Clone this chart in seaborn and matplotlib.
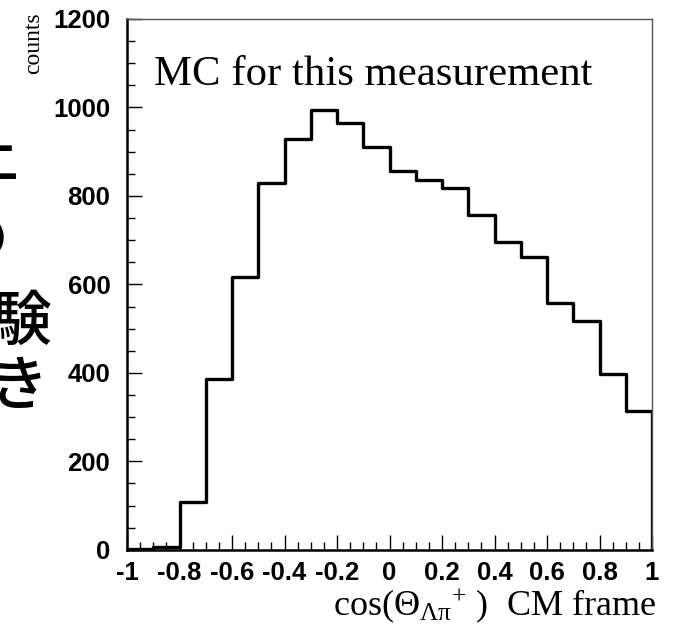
import numpy as np
import pandas as pd
import matplotlib
matplotlib.use("Agg")
import matplotlib.pyplot as plt
import seaborn as sns
from matplotlib.ticker import MultipleLocator, FixedLocator

# ---- data ----
bin_edges = [-1.0, -0.9, -0.8, -0.7, -0.6, -0.5, -0.4, -0.3, -0.2, -0.1, 0.0,
             0.1, 0.2, 0.3, 0.4, 0.5, 0.6, 0.7, 0.8, 0.9, 1.0]
counts = [1, 7, 107, 387, 616, 830, 928, 994, 964, 910, 856,
          837, 817, 758, 695, 663, 559, 518, 398, 313]
xtick_values = [-1, -0.8, -0.6, -0.4, -0.2, 0, 0.2, 0.4, 0.6, 0.8, 1]
xtick_labels = ["-1", "-0.8", "-0.6", "-0.4", "-0.2", "0", "0.2", "0.4", "0.6", "0.8", "1"]
ytick_values = [0, 200, 400, 600, 800, 1000, 1200]
ytick_labels = ["0", "200", "400", "600", "800", "1000", "1200"]
side_chars = ["上", "の", "験", "き"]
title_text = "MC for this measurement"
ylabel_text = "counts"
xlabel_text = r"cos($\Theta_{\Lambda\pi}{}^{+}$ )  CM frame"

sns.set_theme(style="ticks")
plt.rcParams['font.family'] = ['Liberation Sans', 'DejaVu Sans']
plt.rcParams['mathtext.fontset'] = 'custom'
plt.rcParams['mathtext.rm'] = 'Liberation Serif'
plt.rcParams['mathtext.it'] = 'Liberation Serif'
plt.rcParams['mathtext.bf'] = 'Liberation Serif:bold'

W, H = 675, 629
fig = plt.figure(figsize=(W / 100, H / 100), dpi=100)
fig.patch.set_facecolor("white")

x0, x1, y_top, y_bot = 127, 652, 19, 549.8
ax = fig.add_axes([x0 / W, 1 - y_bot / H, (x1 - x0) / W, (y_bot - y_top) / H])
ax.set_facecolor("white")

centers = [(a + b) / 2 for a, b in zip(bin_edges[:-1], bin_edges[1:])]
df = pd.DataFrame({"cos": centers, "counts": counts})
sns.histplot(data=df, x="cos", weights="counts", bins=bin_edges, element="step",
             fill=False, color="black", linewidth=2.4, ax=ax)
# close the outline at both ends down to the axis
ax.vlines([bin_edges[0], bin_edges[-1]], 0, [counts[0], counts[-1]],
          color="black", linewidth=2.4)

ax.set_xlim(bin_edges[0], bin_edges[-1])
ax.set_ylim(0, 1200)
ax.set_xlabel("")
ax.set_ylabel("")

ax.xaxis.set_major_locator(FixedLocator(xtick_values))
ax.set_xticklabels(xtick_labels)
ax.xaxis.set_minor_locator(MultipleLocator(0.05))
ax.yaxis.set_major_locator(FixedLocator(ytick_values))
ax.set_yticklabels(ytick_labels)
ax.yaxis.set_minor_locator(MultipleLocator(50))

ax.tick_params(which="both", direction="in", top=False, right=False, color="black")
ax.tick_params(which="major", length=11, width=1.0)
ax.tick_params(which="minor", length=6, width=1.0)
ax.tick_params(axis="y", which="major", pad=12)
ax.tick_params(axis="x", which="major", pad=8)
for lab in ax.get_xticklabels() + ax.get_yticklabels():
    lab.set_fontweight("bold")
    lab.set_fontsize(18.5)
    lab.set_color("black")

for s in ["left", "bottom"]:
    ax.spines[s].set_color("black")
    ax.spines[s].set_linewidth(1.8)
for s in ["top", "right"]:
    ax.spines[s].set_visible(True)
    ax.spines[s].set_color("#555555")
    ax.spines[s].set_linewidth(1.0)

serif = ['Liberation Serif', 'DejaVu Serif']
fig.text(154 / W, 1 - 85 / H, title_text, family=serif, fontsize=30.8,
         ha="left", va="baseline", color="black")
fig.text(44 / W, 1 - 12 / H, ylabel_text, family=serif, fontsize=17,
         rotation=90, ha="right", va="top", color="black")
fig.text(656 / W, 1 - 615 / H, xlabel_text, family=serif, fontsize=26,
         ha="right", va="baseline", color="black")

# partially visible slide text on the left edge
cjk = ['Noto Sans CJK JP', 'DejaVu Sans']
side_pos = [(-42, 177), (-52, 258), (-8, 340), (-11, 405)]
for ch, (px, py) in zip(side_chars, side_pos):
    fig.text(px / W, 1 - py / H, ch, family=cjk, fontsize=43, fontweight="medium",
             ha="left", va="baseline", color="black")

fig.savefig("out.png", dpi=100, facecolor="white")
